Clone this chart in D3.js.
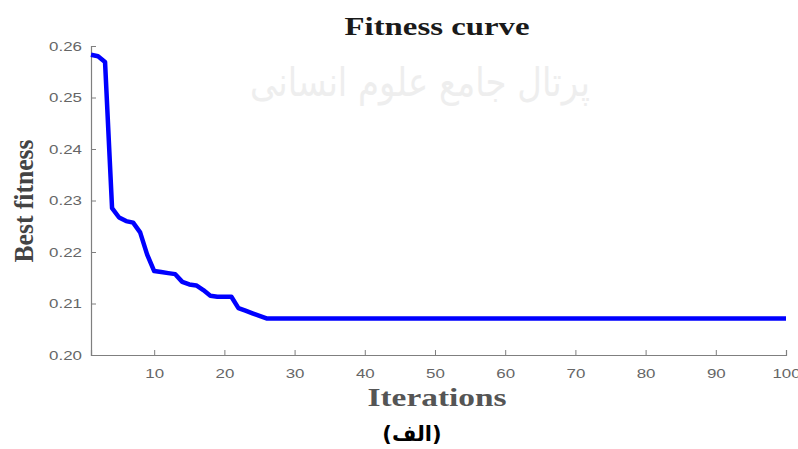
<!DOCTYPE html>
<html>
<head>
<meta charset="utf-8">
<script src="https://cdn.jsdelivr.net/npm/d3@7"></script>
<style>
  html, body { margin: 0; padding: 0; background: #fff; }
  svg { display: block; }
</style>
</head>
<body>
<div id="chart"></div>
<script>
// Fitness curve: best fitness per iteration (flat after iteration 26)
const iterStart = [1, 2, 3, 4, 5, 6, 7, 8, 9, 10, 11, 12, 13, 14, 15, 16, 17, 18, 19, 20, 21, 22, 23, 24, 25, 26];
const fitnessStart = [0.2583, 0.2580, 0.2569, 0.2285, 0.2267, 0.2260, 0.2257, 0.2238, 0.2195, 0.2163,
    0.2161, 0.2159, 0.2157, 0.2142, 0.2137, 0.2135, 0.2126, 0.2115, 0.2113, 0.2113,
    0.2113, 0.2091, 0.2086, 0.2081, 0.2076, 0.2071];
const finalFitness = 0.2071;
const lastIteration = 100;
const xTicks = [10, 20, 30, 40, 50, 60, 70, 80, 90, 100];
const yTicks = [0.20, 0.21, 0.22, 0.23, 0.24, 0.25, 0.26];

const points = iterStart.map((it, i) => ({ it, v: fitnessStart[i] }));
for (let it = iterStart[iterStart.length - 1] + 1; it <= lastIteration; it++) points.push({ it, v: finalFitness });

const width = 798, height = 449;
const margin = { top: 46, right: 12, bottom: 94, left: 91 };

const svg = d3.select("#chart").append("svg").attr("width", width).attr("height", height);

// faint site watermark behind the chart
svg.append("text")
    .attr("x", 420).attr("y", 96)
    .attr("text-anchor", "middle")
    .attr("font-family", "DejaVu Sans")
    .attr("font-size", 40)
    .attr("fill", "#eeeeee")
    .attr("direction", "rtl")
    .text("پرتال جامع علوم انسانی")
    .attr("textLength", 340)
    .attr("lengthAdjust", "spacingAndGlyphs");

const x = d3.scaleLinear().domain([1, lastIteration]).range([margin.left, width - margin.right]);
const y = d3.scaleLinear().domain([0.20, 0.26]).range([height - margin.bottom, margin.top]);

// widen text horizontally like the source image
const stretch = (sel, k) => sel.each(function () {
    const len = this.getComputedTextLength();
    d3.select(this).attr("textLength", len * k).attr("lengthAdjust", "spacingAndGlyphs");
});

const axisColor = "#7f7f7f";

const gx = svg.append("g")
    .attr("transform", `translate(0,${y(0.20)})`)
    .call(d3.axisTop(x).tickValues(xTicks).tickSize(5).tickFormat(d3.format("d")));
gx.select(".domain").attr("stroke", axisColor).attr("stroke-width", 1.2);
gx.selectAll(".tick line").attr("stroke", axisColor);
gx.selectAll(".tick text")
    .attr("y", 23).attr("dy", 0)
    .attr("fill", "#666").attr("font-family", "Liberation Sans, Arial").attr("font-size", 13)
    .call(stretch, 1.3);

const gy = svg.append("g")
    .attr("transform", `translate(${x(1)},0)`)
    .call(d3.axisRight(y).tickValues(yTicks).tickSize(5).tickFormat(d3.format(".2f")));
gy.select(".domain").attr("stroke", axisColor).attr("stroke-width", 1.2);
gy.selectAll(".tick line").attr("stroke", axisColor);
gy.selectAll(".tick text")
    .attr("x", -9).attr("text-anchor", "end")
    .attr("fill", "#666").attr("font-family", "Liberation Sans, Arial").attr("font-size", 13)
    .call(stretch, 1.3);

svg.append("path")
    .datum(points)
    .attr("fill", "none")
    .attr("stroke", "#0000ff")
    .attr("stroke-width", 4.5)
    .attr("stroke-linejoin", "round")
    .attr("d", d3.line().x(d => x(d.it)).y(d => y(d.v)));

svg.append("text")
    .attr("x", 437).attr("y", 35)
    .attr("text-anchor", "middle")
    .attr("font-family", "Liberation Serif, Times New Roman")
    .attr("font-weight", "bold")
    .attr("font-size", 25)
    .attr("fill", "#1a1a1a")
    .text("Fitness curve")
    .attr("textLength", 185).attr("lengthAdjust", "spacingAndGlyphs");

svg.append("text")
    .attr("x", 437).attr("y", 406)
    .attr("text-anchor", "middle")
    .attr("font-family", "Liberation Serif, Times New Roman")
    .attr("font-weight", "bold")
    .attr("font-size", 25)
    .attr("fill", "#555")
    .text("Iterations")
    .attr("textLength", 139).attr("lengthAdjust", "spacingAndGlyphs");

svg.append("text")
    .attr("transform", "translate(33,201) rotate(-90)")
    .attr("text-anchor", "middle")
    .attr("font-family", "Liberation Serif, Times New Roman")
    .attr("font-weight", "bold")
    .attr("font-size", 27)
    .attr("fill", "#444")
    .text("Best fitness")
    .attr("textLength", 123).attr("lengthAdjust", "spacingAndGlyphs");

svg.append("text")
    .attr("x", 412).attr("y", 441)
    .attr("text-anchor", "middle")
    .attr("font-family", "DejaVu Sans")
    .attr("font-weight", "bold")
    .attr("font-size", 21)
    .attr("fill", "#000")
    .text("(الف)");
</script>
</body>
</html>
